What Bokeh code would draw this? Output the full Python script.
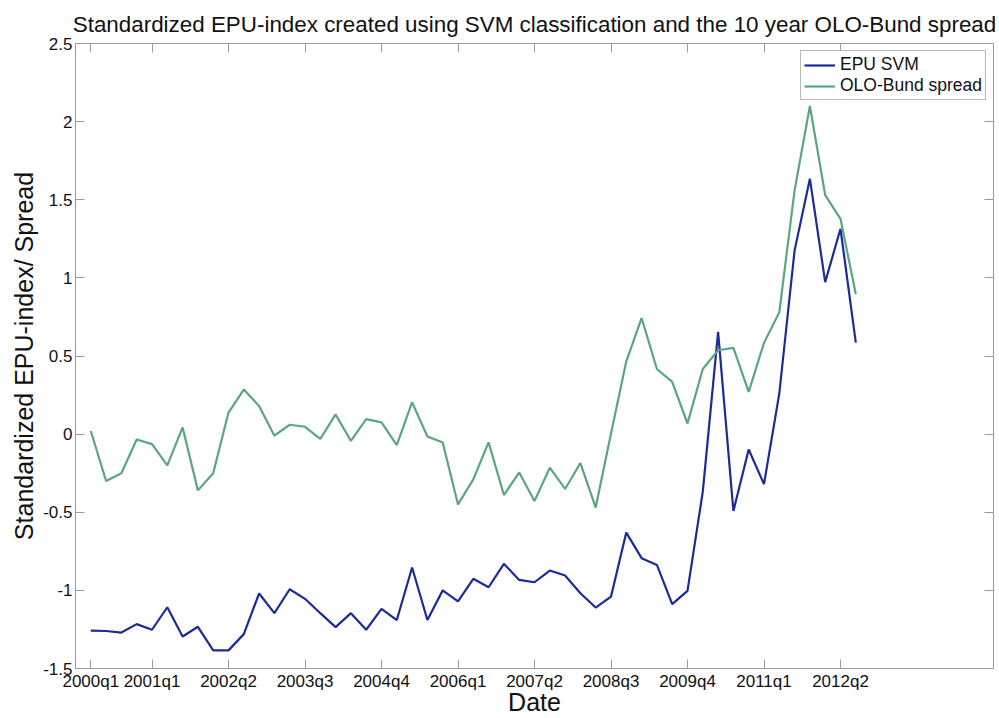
from bokeh.plotting import figure
from bokeh.models import LinearAxis, FixedTicker, Range1d, Legend, LegendItem
from bokeh.embed import file_html
from bokeh.resources import INLINE

# quarter index 1 = 2000q1 ... 51 = 2012q3
quarter_idx = list(range(1, 52))
epu_svm = [-1.257, -1.26, -1.27, -1.216, -1.252, -1.108, -1.295, -1.233, -1.384, -1.384,
           -1.28, -1.02, -1.146, -0.993, -1.054, -1.146, -1.235, -1.146, -1.252, -1.118,
           -1.19, -0.854, -1.19, -1.0, -1.07, -0.926, -0.98, -0.83, -0.933, -0.948,
           -0.873, -0.905, -1.018, -1.11, -1.04, -0.63, -0.794, -0.837, -1.088, -1.003,
           -0.368, 0.654, -0.492, -0.098, -0.32, 0.26, 1.176, 1.634, 0.973, 1.314, 0.586]
olo_bund = [0.02, -0.30, -0.25, -0.034, -0.064, -0.20, 0.043, -0.36, -0.25, 0.138,
            0.285, 0.18, -0.01, 0.06, 0.047, -0.03, 0.126, -0.043, 0.096, 0.075,
            -0.07, 0.204, -0.015, -0.053, -0.45, -0.29, -0.053, -0.39, -0.245, -0.428,
            -0.215, -0.351, -0.185, -0.47, 0.004, 0.466, 0.743, 0.417, 0.334, 0.068,
            0.417, 0.537, 0.552, 0.27, 0.584, 0.78, 1.56, 2.10, 1.53, 1.378, 0.895]
x_ticks = [1, 5, 10, 15, 20, 25, 30, 35, 40, 45, 50]
x_tick_labels = ["2000q1", "2001q1", "2002q2", "2003q3", "2004q4", "2006q1",
                 "2007q2", "2008q3", "2009q4", "2011q1", "2012q2"]
y_ticks = [-1.5, -1, -0.5, 0, 0.5, 1, 1.5, 2, 2.5]
y_tick_labels = ["-1.5", "-1", "-0.5", "0", "0.5", "1", "1.5", "2", "2.5"]
x_lim = (0, 60)
y_lim = (-1.5, 2.5)

FONT = "Liberation Sans"
AX = "#9a9a9a"
BLUE = "#1b2b98"
GREEN = "#5ba67f"

p = figure(width=999, height=718, output_backend="svg", toolbar_location=None,
           x_range=Range1d(*x_lim), y_range=Range1d(*y_lim),
           min_border_left=75, min_border_right=6, min_border_top=43, min_border_bottom=49,
           background_fill_color="white", border_fill_color="white")
p.grid.visible = False
p.outline_line_color = AX

p.title.text = "Standardized EPU-index created using SVM classification and the 10 year OLO-Bund spread"
p.title.text_font = FONT
p.title.text_font_size = "22.4px"
p.title.text_font_style = "normal"
p.title.align = "center"
p.title.text_color = "#111111"
p.title.offset = 0
p.title.standoff = 13

def style_axis(ax, ticks, labels=None):
    ax.ticker = FixedTicker(ticks=ticks)
    ax.axis_line_color = AX
    ax.major_tick_line_color = AX
    ax.major_tick_in = 9
    ax.major_tick_out = 0
    ax.minor_tick_line_color = None
    ax.major_label_text_font = FONT
    if labels is not None:
        ax.major_label_overrides = {t: l for t, l in zip(ticks, labels)}
        ax.major_label_text_font_size = "17px"
        ax.major_label_text_color = "#111111"
    else:
        ax.major_label_text_font_size = "1px"
        ax.major_label_text_color = None
        ax.major_label_text_alpha = 0
        ax.major_label_standoff = 0

xa = p.xaxis[0]
style_axis(xa, x_ticks, x_tick_labels)
xa.major_label_standoff = 3
xa.axis_label = "Date"
xa.axis_label_text_font = FONT
xa.axis_label_text_font_size = "25px"
xa.axis_label_text_font_style = "normal"
xa.axis_label_text_color = "#111111"
xa.axis_label_standoff = -6

ya = p.yaxis[0]
style_axis(ya, y_ticks, y_tick_labels)
ya.major_label_standoff = 3
ya.axis_label = "Standardized EPU-index/ Spread"
ya.axis_label_text_font = FONT
ya.axis_label_text_font_size = "25px"
ya.axis_label_text_font_style = "normal"
ya.axis_label_text_color = "#111111"
ya.axis_label_standoff = 2

top = LinearAxis()
style_axis(top, x_ticks)
p.add_layout(top, "above")
right = LinearAxis()
style_axis(right, y_ticks)
p.add_layout(right, "right")

r1 = p.line(quarter_idx, epu_svm, line_color=BLUE, line_width=2.2)
r2 = p.line(quarter_idx, olo_bund, line_color=GREEN, line_width=2.2)

legend = Legend(items=[LegendItem(label="EPU SVM", renderers=[r1]),
                       LegendItem(label="OLO-Bund spread", renderers=[r2])],
                location="top_right")
legend.label_text_font = FONT
legend.label_text_font_size = "17.5px"
legend.label_text_color = "#111111"
legend.border_line_color = "#6e6e6e"
legend.border_line_width = 1
legend.glyph_width = 31
legend.glyph_height = 18
legend.label_height = 18
legend.label_standoff = 5
legend.padding = 3
legend.spacing = 0
legend.margin = 7
p.add_layout(legend)

open("out.html", "w").write(file_html(p, INLINE))
